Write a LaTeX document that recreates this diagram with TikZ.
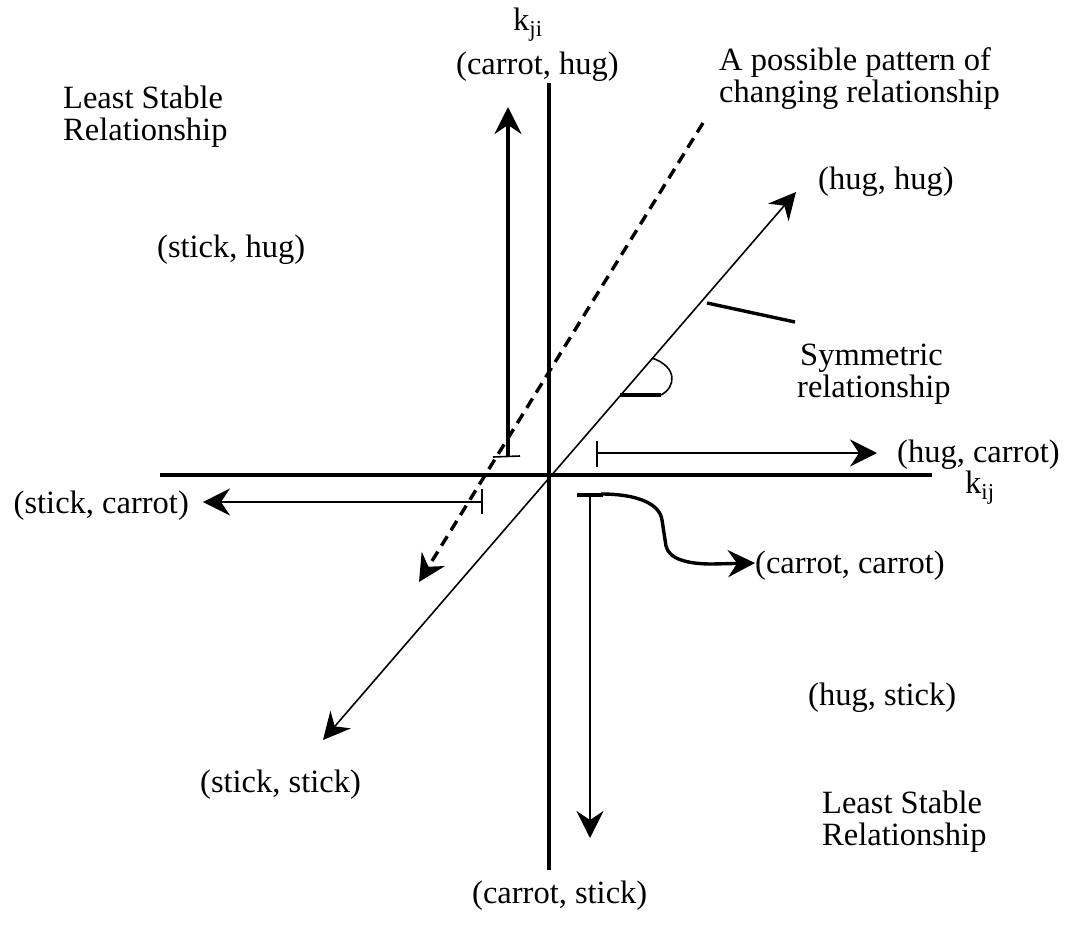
\documentclass[tikz,border=0pt]{standalone}
\usepackage{fontspec}
\setmainfont{Liberation Serif}
\usetikzlibrary{arrows.meta}
\begin{document}
\begin{tikzpicture}[x=1pt,y=-1pt,
  lbl/.style={font=\fontsize{32.5}{34}\selectfont, inner sep=0pt},
  axisline/.style={line width=4pt},
  thinline/.style={line width=1.6pt},
  thickline/.style={line width=3.4pt},
  dashline/.style={line width=3.4pt, dash pattern=on 11pt off 7pt},
  >={Stealth[length=27pt,width=27pt,inset=9pt]}]
\useasboundingbox (0,0) rectangle (1066,935);

% axes
\coordinate (yT) at (549,83);
\coordinate (yB) at (549,870);
\coordinate (xL) at (160,475);
\coordinate (xR) at (932,475);
\draw[axisline] (yT) -- (yB);
\draw[axisline] (xL) -- (xR);

% up arrow (thick)
\coordinate (uS) at (508,457);
\coordinate (uE) at (508,107);
\coordinate (uB1) at (493,457);
\coordinate (uB2) at (520,456);
\draw[thickline,->] (uS) -- (uE);
\draw[thinline] (uB1) -- (uB2);

% left arrow
\coordinate (lS) at (482,502);
\coordinate (lE) at (203,502);
\coordinate (lB1) at (482,489);
\coordinate (lB2) at (482,514);
\draw[thinline,->] (lS) -- (lE);
\draw[thinline] (lB1) -- (lB2);

% right arrow
\coordinate (rS) at (597,453);
\coordinate (rE) at (877,453);
\coordinate (rB1) at (597,441);
\coordinate (rB2) at (597,467);
\draw[thinline,->] (rS) -- (rE);
\draw[thinline] (rB1) -- (rB2);

% down arrow
\coordinate (dS) at (590,495);
\coordinate (dE) at (590,838);
\coordinate (dB1) at (577,495);
\coordinate (dB2) at (603,495);
\draw[thinline,->] (dS) -- (dE);
\draw[thickline] (dB1) -- (dB2);

% curved arrow to (carrot, carrot)
\coordinate (cS) at (601,494);
\coordinate (cE) at (755,563);
\draw[thickline,->] (cS) .. controls (640,494) and (660,505) .. (662,520)
   -- (666,546) .. controls (669,560) and (690,564) .. (712,564) -- (cE);

% symmetric diagonal
\coordinate (sS) at (796,192);
\coordinate (sE) at (323,740);
\draw[thinline,<->] (sE) -- (sS);

% dashed pattern arrow
\coordinate (pS) at (703,123);
\coordinate (pE) at (419,582);
\draw[dashline,->] (pS) -- (pE);

% angle mark
\coordinate (aA) at (620,395);
\coordinate (aB) at (661,395);
\coordinate (aC) at (652,358);
\draw[thickline] (aA) -- (aB);
\draw[thinline] (aB) .. controls (676,387) and (678,367) .. (aC);

% pointer to "Symmetric relationship"
\coordinate (mA) at (707,303);
\coordinate (mB) at (795,322);
\draw[thickline] (mA) -- (mB);

% labels
\node[lbl, anchor=base west] (kji) at (513,30) {k\textsubscript{ji}};
\node[lbl, anchor=base west] (ch) at (456,74) {(carrot, hug)};
\node[lbl, anchor=base west] (pat1) at (719,70) {A possible pattern of};
\node[lbl, anchor=base west] (pat2) at (719,102) {changing relationship};
\node[lbl, anchor=base west] (ls1) at (63,108) {Least Stable};
\node[lbl, anchor=base west] (ls2) at (63,140) {Relationship};
\node[lbl, anchor=base west] (hh) at (818,189) {(hug, hug)};
\node[lbl, anchor=base west] (sh) at (157,257) {(stick, hug)};
\node[lbl, anchor=base west] (sym1) at (800,365) {Symmetric};
\node[lbl, anchor=base west] (sym2) at (797,397) {relationship};
\node[lbl, anchor=base west] (hc) at (897,462) {(hug, carrot)};
\node[lbl, anchor=base west] (kij) at (965,493) {k\textsubscript{ij}};
\node[lbl, anchor=base east] (sc) at (189,513) {(stick, carrot)};
\node[lbl, anchor=base west] (cc) at (755,573) {(carrot, carrot)};
\node[lbl, anchor=base west] (hs) at (808,705) {(hug, stick)};
\node[lbl, anchor=base west] (ss) at (200,792) {(stick, stick)};
\node[lbl, anchor=base west] (ls3) at (822,813) {Least Stable};
\node[lbl, anchor=base west] (ls4) at (822,845) {Relationship};
\node[lbl, anchor=base west] (cs) at (472,903) {(carrot, stick)};
\end{tikzpicture}
\end{document}
